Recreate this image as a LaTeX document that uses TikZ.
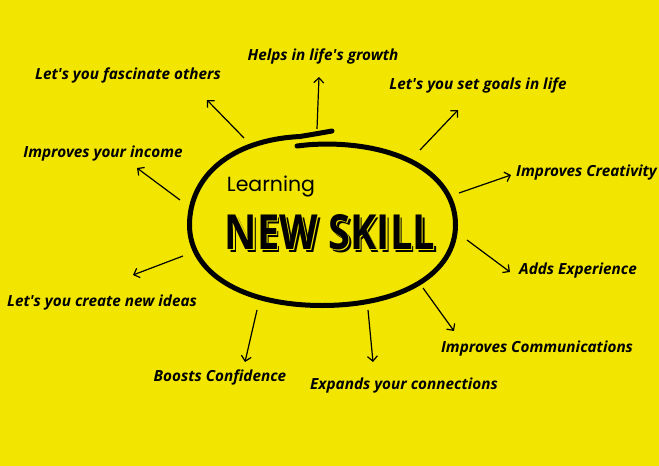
\documentclass[tikz,border=0pt]{standalone}
\usepackage{fontspec}
\setmainfont{Open Sans}
\newfontfamily\learnfont{Poppins}
\usetikzlibrary{arrows.meta}
\definecolor{bgyellow}{RGB}{242,230,0}
\newcommand{\q}{\textquotesingle}
\newcommand{\nsktext}{\resizebox{210pt}{35pt}{\bfseries NEW SKILL}}
\tikzset{
  lbl/.style={font=\fontsize{15.3}{17}\selectfont\bfseries\itshape, text=black, inner sep=0pt, yshift=-1.5pt},
  arr/.style={draw=black, line width=1.2pt, -{Straight Barb[length=5pt,width=10pt]}},
  bigtxt/.style={inner sep=0pt},
  ring/.style={draw=black, line width=5pt, line cap=round},
}
\begin{document}
\begin{tikzpicture}[x=1pt,y=-1pt]
\fill[bgyellow] (0,0) rectangle (659,466);
\useasboundingbox (0,0) rectangle (659,466);
% central hand-drawn ring
\coordinate (rs) at (297,146);
\coordinate (re) at (332,131);
\draw[ring] (rs) .. controls (310,144.5) .. (325,144)
  .. controls (403,144) and (455.5,176) .. (455.5,225)
  .. controls (455.5,273) and (402,305.5) .. (322,305.5)
  .. controls (242.5,305.5) and (189.5,273) .. (189.5,225)
  .. controls (189.5,177) and (230,140) .. (300,136.5)
  .. controls (315,134) .. (re);
% title texts
\node[inner sep=0pt, font=\learnfont\fontsize{20.5}{22}\selectfont] (learn) at (271,186) {Learning};
\node[bigtxt] (nsk) at (330,233.5) {%
  \rlap{\hspace{2.6pt}\raisebox{-2.6pt}{\color{black}\nsktext}}%
  \rlap{\hspace{1.3pt}\raisebox{-1.3pt}{\color{bgyellow}\nsktext}}%
  {\color{black}\nsktext}};
% labels
\node[lbl] (l1) at (323,55) {Helps in life\q s growth};
\node[lbl] (l2) at (128,74) {Let\q s you fascinate others};
\node[lbl] (l3) at (478,84) {Let\q s you set goals in life};
\node[lbl] (l4) at (103,152) {Improves your income};
\node[lbl] (l5) at (586.5,171) {Improves Creativity};
\node[lbl] (l6) at (578,269) {Adds Experience};
\node[lbl] (l7) at (102,301) {Let\q s you create new ideas};
\node[lbl] (l8) at (537,347) {Improves Communications};
\node[lbl] (l9) at (220,376) {Boosts Confidence};
\node[lbl] (l10) at (404,384) {Expands your connections};
% arrow coordinates
\coordinate (a1s) at (317,129); \coordinate (a1e) at (319,77);
\coordinate (a2s) at (244,138); \coordinate (a2e) at (207,100);
\coordinate (a3s) at (420,150); \coordinate (a3e) at (458,110);
\coordinate (a4s) at (180,200); \coordinate (a4e) at (137,168);
\coordinate (a5s) at (459,193); \coordinate (a5e) at (511,175);
\coordinate (a6s) at (467,240); \coordinate (a6e) at (510,272);
\coordinate (a7s) at (183,256); \coordinate (a7e) at (133,275);
\coordinate (a8s) at (423,288); \coordinate (a8e) at (454,331);
\coordinate (a9s) at (257,310); \coordinate (a9e) at (245,362);
\coordinate (a10s) at (368,310); \coordinate (a10e) at (373,362);
\draw[arr] (a1s) -- (a1e);
\draw[arr] (a2s) -- (a2e);
\draw[arr] (a3s) -- (a3e);
\draw[arr] (a4s) -- (a4e);
\draw[arr] (a5s) -- (a5e);
\draw[arr] (a6s) -- (a6e);
\draw[arr] (a7s) -- (a7e);
\draw[arr] (a8s) -- (a8e);
\draw[arr] (a9s) -- (a9e);
\draw[arr] (a10s) -- (a10e);
\end{tikzpicture}
\end{document}
